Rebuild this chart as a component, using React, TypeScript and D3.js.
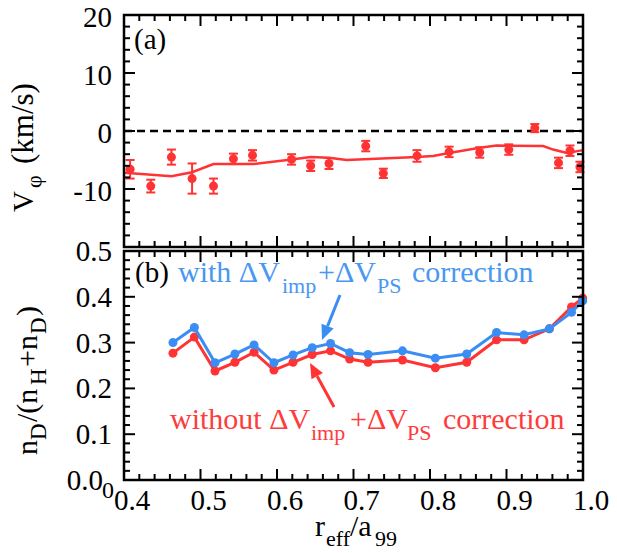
import React from "react";
import * as d3 from "d3";

// panel (a): toroidal rotation with error bars + fitted profile
const rhoV = [0.408, 0.435, 0.462, 0.489, 0.517, 0.543, 0.568, 0.619, 0.644, 0.668, 0.716, 0.739, 0.783, 0.825, 0.865, 0.903, 0.937, 0.968, 0.983, 0.996];
const vPhi = [-6.6, -9.5, -4.5, -8.2, -9.5, -4.8, -4.2, -4.9, -6.0, -5.6, -2.6, -7.3, -4.3, -3.6, -3.7, -3.2, 0.5, -5.5, -3.4, -6.2];
const vErr = [1.6, 1.1, 1.3, 2.6, 1.3, 0.9, 0.9, 0.9, 0.9, 0.95, 0.9, 0.8, 1.0, 0.9, 0.9, 0.9, 0.7, 0.9, 0.9, 0.9];
const rhoFit = [0.401, 0.462, 0.489, 0.517, 0.568, 0.619, 0.644, 0.668, 0.691, 0.783, 0.804, 0.825, 0.865, 0.887, 0.948, 0.961, 0.979, 1.0];
const vFit = [-7.2, -7.8, -7.1, -5.7, -5.7, -4.9, -4.5, -4.6, -5.0, -4.5, -4.3, -3.8, -2.9, -2.5, -2.6, -3.2, -3.8, -3.3];

// panel (b): deuterium fraction
const rhoN = [0.464, 0.492, 0.519, 0.545, 0.57, 0.596, 0.621, 0.646, 0.67, 0.695, 0.719, 0.764, 0.807, 0.848, 0.887, 0.923, 0.956, 0.985, 0.9996];
const ratioWith = [0.3, 0.333, 0.256, 0.275, 0.295, 0.256, 0.273, 0.289, 0.298, 0.278, 0.274, 0.282, 0.266, 0.275, 0.322, 0.317, 0.33, 0.366, 0.391];
const ratioWithout = [0.277, 0.312, 0.238, 0.257, 0.279, 0.24, 0.257, 0.274, 0.282, 0.264, 0.257, 0.262, 0.245, 0.257, 0.306, 0.306, 0.33, 0.378, 0.397];

const xTickLabels = ["0.4", "0.5", "0.6", "0.7", "0.8", "0.9", "1.0"];
const vTickLabels = ["20", "10", "0", "-10"];
const nTickLabels = ["0.0", "0.1", "0.2", "0.3", "0.4", "0.5"];

const W = 617;
const H = 553;
const RED = "#ff3333";
const BLUE = "#3a8df2";
const SERIF = "Liberation Serif";

const x = d3.scaleLinear().domain([0.4, 1.0]).range([124, 583]);
const yA = d3.scaleLinear().domain([-20, 20]).range([247, 15]);
const yB = d3.scaleLinear().domain([0, 0.5]).range([480, 251]);

const xMinor = d3.range(0.4, 1.0001, 0.02);

function Frame({ y, minor, majorStep }) {
  const [y0, y1] = y.range(); // bottom, top
  const [x0, x1] = x.range();
  const isMajor = (v, step) => Math.abs(v / step - Math.round(v / step)) < 1e-4;
  const ticks = [];
  xMinor.forEach((v, i) => {
    const len = isMajor(v, 0.1) ? 11 : 6;
    const px = x(v);
    ticks.push(<line key={"xb" + i} x1={px} x2={px} y1={y0} y2={y0 - len} />);
    ticks.push(<line key={"xt" + i} x1={px} x2={px} y1={y1} y2={y1 + len} />);
  });
  minor.forEach((v, i) => {
    const len = isMajor(v, majorStep) ? 11 : 6;
    const py = y(v);
    ticks.push(<line key={"yl" + i} x1={x0} x2={x0 + len} y1={py} y2={py} />);
    ticks.push(<line key={"yr" + i} x1={x1} x2={x1 - len} y1={py} y2={py} />);
  });
  return (
    <g stroke="#000">
      <g strokeWidth={2}>{ticks}</g>
      <rect x={x0} y={y1} width={x1 - x0} height={y0 - y1} fill="none" strokeWidth={2.5} />
    </g>
  );
}

function Arrow({ from, to, color }) {
  const ang = Math.atan2(to[1] - from[1], to[0] - from[0]);
  const L = 15;
  const hw = 6.5;
  const bx = to[0] - L * Math.cos(ang);
  const by = to[1] - L * Math.sin(ang);
  const px = -Math.sin(ang);
  const py = Math.cos(ang);
  const pts = [to, [bx + hw * px, by + hw * py], [bx - hw * px, by - hw * py]];
  return (
    <g>
      <line x1={from[0]} y1={from[1]} x2={bx} y2={by} stroke={color} strokeWidth={3} />
      <polygon points={pts.map((p) => p.join(",")).join(" ")} fill={color} />
    </g>
  );
}

export default function App() {
  const fitLine = d3
    .line<number>()
    .x((d, i) => x(rhoFit[i]))
    .y((d) => yA(d));
  const lineB = d3
    .line<number>()
    .x((d, i) => x(rhoN[i]))
    .y((d) => yB(d));

  return (
    <div style={{ position: "absolute", left: 0, top: 0 }}>
      <svg width={W} height={H} style={{ display: "block", background: "#fff" }}>
        {/* ---- panel (a) ---- */}
        <line x1={x(0.4)} x2={x(1.0)} y1={yA(0)} y2={yA(0)} stroke="#000" strokeWidth={2.5} strokeDasharray="8,5" />
        <path d={fitLine(vFit) || ""} fill="none" stroke={RED} strokeWidth={2.5} />
        <g stroke={RED} strokeWidth={2}>
          {rhoV.map((r, i) => (
            <g key={i}>
              <line x1={x(r)} x2={x(r)} y1={yA(vPhi[i] - vErr[i])} y2={yA(vPhi[i] + vErr[i])} />
              <line x1={x(r) - 4.5} x2={x(r) + 4.5} y1={yA(vPhi[i] - vErr[i])} y2={yA(vPhi[i] - vErr[i])} />
              <line x1={x(r) - 4.5} x2={x(r) + 4.5} y1={yA(vPhi[i] + vErr[i])} y2={yA(vPhi[i] + vErr[i])} />
            </g>
          ))}
        </g>
        <g fill={RED}>
          {rhoV.map((r, i) => (
            <circle key={i} cx={x(r)} cy={yA(vPhi[i])} r={4.5} />
          ))}
        </g>
        <Frame y={yA} minor={d3.range(-20, 20.001, 2)} majorStep={10} />

        {/* ---- panel (b) ---- */}
        <path d={lineB(ratioWithout) || ""} fill="none" stroke={RED} strokeWidth={3} />
        <g fill={RED}>
          {rhoN.map((r, i) => (
            <circle key={i} cx={x(r)} cy={yB(ratioWithout[i])} r={4.5} />
          ))}
        </g>
        <path d={lineB(ratioWith) || ""} fill="none" stroke={BLUE} strokeWidth={3} />
        <g fill={BLUE}>
          {rhoN.map((r, i) => (
            <circle key={i} cx={x(r)} cy={yB(ratioWith[i])} r={4.5} />
          ))}
        </g>
        <Frame y={yB} minor={d3.range(0, 0.5001, 0.02)} majorStep={0.1} />
        <Arrow from={[340, 295]} to={[322, 340]} color={BLUE} />
        <Arrow from={[334, 407]} to={[310, 363]} color={RED} />

        <g fontFamily={SERIF} fill="#000">
          <g fontSize={29} textAnchor="end">
            {vTickLabels.map((t) => (
              <text key={t} fontFamily={SERIF} x={112} y={yA(+t) + 12}>{t}</text>
            ))}
          </g>
          <text fontFamily={SERIF} x={134} y={49} fontSize={29}>(a)</text>
          <g fontSize={29} textAnchor="end">
            {nTickLabels.map((t) => (
              <text key={t} fontFamily={SERIF} x={t === "0.0" ? 103 : 112} y={yB(+t) + 10}>{t}</text>
            ))}
          </g>
          <text fontFamily={SERIF} x={102} y={498} fontSize={24}>0</text>
          <g fontSize={29} textAnchor="middle">
            {xTickLabels.map((t) => (
              <text key={t} fontFamily={SERIF} x={x(+t) + 8} y={510}>{t}</text>
            ))}
          </g>

          {/* annotations */}
          <text fontFamily={SERIF} x={135} y={282} fontSize={29}>(b)</text>
          <text fontFamily={SERIF} fontSize={30} fill="#4a97f2">
            <tspan x={178} y={282}>with ΔV</tspan>
            <tspan x={282} y={293} fontSize={22}>imp</tspan>
            <tspan x={318} y={282}>+ΔV</tspan>
            <tspan x={377} y={293} fontSize={22}>PS</tspan>
            <tspan x={412} y={282}>correction</tspan>
          </text>
          <text fontFamily={SERIF} fontSize={30} fill="#ff3c3c">
            <tspan x={170} y={429}>without ΔV</tspan>
            <tspan x={311} y={440} fontSize={22}>imp</tspan>
            <tspan x={350} y={429}>+ΔV</tspan>
            <tspan x={407} y={440} fontSize={22}>PS</tspan>
            <tspan x={443} y={429}>correction</tspan>
          </text>

          {/* axis titles */}
          <g transform="translate(33,212) rotate(-90)">
            <text fontFamily={SERIF} fontSize={29}>
              <tspan x={0} y={0}>V</tspan>
              <tspan x={24} y={8} fontSize={22}>φ</tspan>
              <tspan x={48} y={0} fontSize={31}>(km/s)</tspan>
            </text>
          </g>
          <g transform="translate(37,455) rotate(-90)">
            <text fontFamily={SERIF} fontSize={30}>
              <tspan x={0} y={0}>n</tspan>
              <tspan x={15} y={9} fontSize={23}>D</tspan>
              <tspan x={33} y={0}>/(n</tspan>
              <tspan x={70} y={9} fontSize={23}>H</tspan>
              <tspan x={88} y={0}>+n</tspan>
              <tspan x={121} y={9} fontSize={23}>D</tspan>
              <tspan x={139} y={0}>)</tspan>
            </text>
          </g>
          <text fontFamily={SERIF} fontSize={30}>
            <tspan x={315} y={536}>r</tspan>
            <tspan x={326} y={546} fontSize={22}>eff</tspan>
            <tspan x={350} y={536}>/a</tspan>
            <tspan x={375} y={546} fontSize={22}>99</tspan>
          </text>
        </g>
      </svg>
    </div>
  );
}
